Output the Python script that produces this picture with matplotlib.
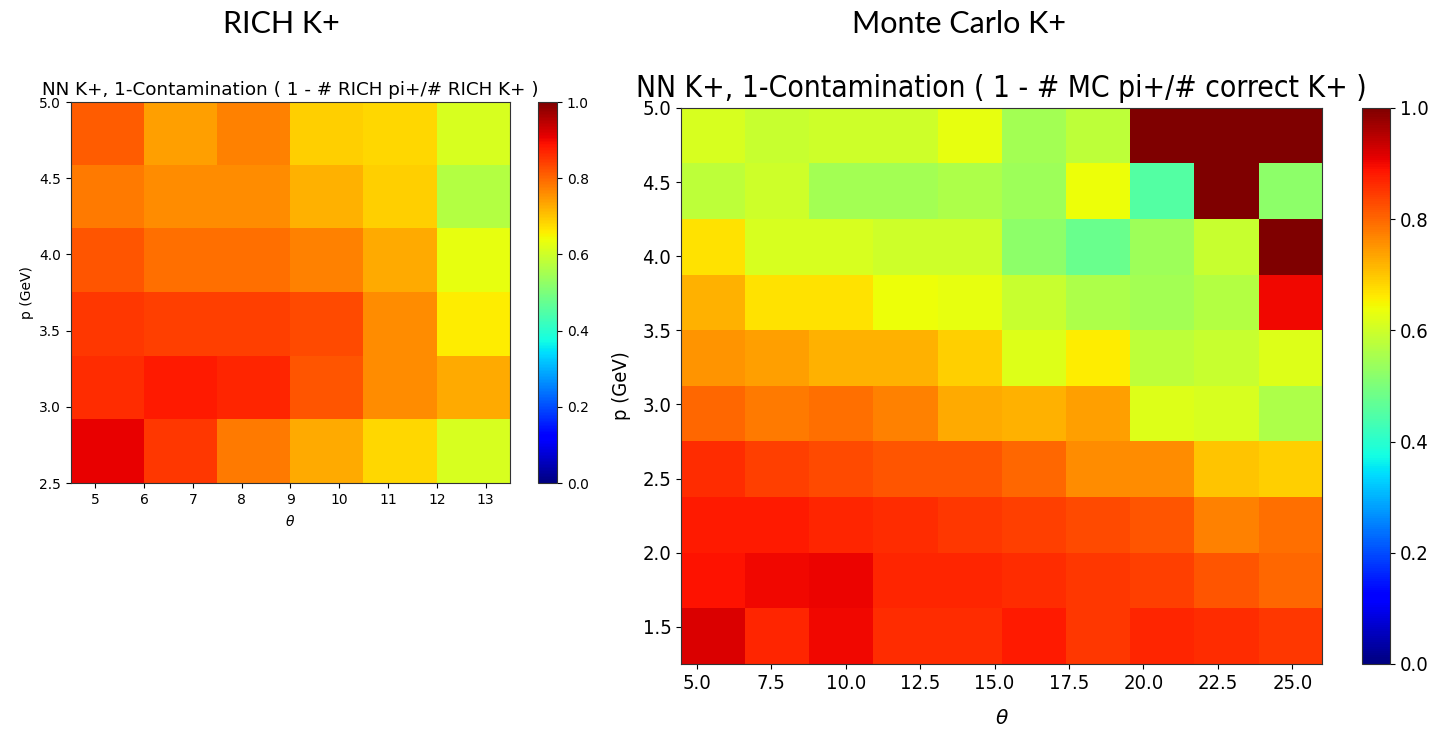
import numpy as np
import matplotlib
matplotlib.use("Agg")
import matplotlib.pyplot as plt

# RICH K+ purity map: rows run from high p (top) to low p (bottom)
rich_theta_range = (4.5, 13.5)
rich_p_range = (2.5, 5.0)
rich_purity = [
    [0.81, 0.74, 0.77, 0.69, 0.68, 0.61],
    [0.78, 0.76, 0.76, 0.72, 0.69, 0.57],
    [0.82, 0.79, 0.79, 0.77, 0.73, 0.63],
    [0.85, 0.84, 0.84, 0.83, 0.76, 0.66],
    [0.86, 0.88, 0.87, 0.82, 0.76, 0.73],
    [0.91, 0.85, 0.78, 0.73, 0.68, 0.61],
]
rich_xticks = [5, 6, 7, 8, 9, 10, 11, 12, 13]
rich_yticks = [2.5, 3.0, 3.5, 4.0, 4.5, 5.0]

# Monte Carlo K+ purity map: rows run from high p (top) to low p (bottom)
mc_theta_range = (4.47, 26.0)
mc_p_range = (1.25, 5.0)
mc_purity = [
    [0.61, 0.59, 0.60, 0.60, 0.63, 0.55, 0.58, 1.00, 1.00, 1.00],
    [0.58, 0.60, 0.55, 0.55, 0.56, 0.54, 0.64, 0.45, 1.00, 0.52],
    [0.67, 0.61, 0.61, 0.60, 0.60, 0.52, 0.48, 0.54, 0.59, 1.00],
    [0.72, 0.67, 0.67, 0.64, 0.63, 0.59, 0.56, 0.55, 0.57, 0.90],
    [0.75, 0.74, 0.72, 0.72, 0.69, 0.62, 0.66, 0.58, 0.59, 0.62],
    [0.80, 0.78, 0.79, 0.77, 0.73, 0.72, 0.74, 0.62, 0.61, 0.56],
    [0.86, 0.84, 0.83, 0.82, 0.82, 0.80, 0.76, 0.76, 0.70, 0.69],
    [0.88, 0.88, 0.87, 0.86, 0.85, 0.84, 0.83, 0.82, 0.77, 0.79],
    [0.89, 0.90, 0.905, 0.87, 0.87, 0.86, 0.85, 0.84, 0.82, 0.80],
    [0.92, 0.87, 0.90, 0.86, 0.86, 0.88, 0.85, 0.87, 0.86, 0.85],
]
mc_xticks = [5.0, 7.5, 10.0, 12.5, 15.0, 17.5, 20.0, 22.5, 25.0]
mc_yticks = [1.5, 2.0, 2.5, 3.0, 3.5, 4.0, 4.5, 5.0]

cbar_ticks = [0.0, 0.2, 0.4, 0.6, 0.8, 1.0]

fig = plt.figure(figsize=(14.45, 7.37), dpi=100)
fig.patch.set_facecolor("white")

# Panel headings
fig.text(0.195, 0.968, "RICH K+", ha="center", va="center",
         fontsize=22, family="Lato", color="black")
fig.text(0.664, 0.968, "Monte Carlo K+", ha="center", va="center",
         fontsize=22, family="Lato", color="black")


def draw_map(ax, cax, data, xr, yr, xticks, yticks, title, fs_title, fs_tick,
             fs_label, stretch, xlabelpad, ylabelpad, title_pad):
    im = ax.imshow(np.array(data), cmap="jet", vmin=0, vmax=1,
                   extent=[xr[0], xr[1], yr[0], yr[1]], origin="upper",
                   aspect="auto", interpolation="nearest")
    ax.set_xticks(xticks)
    ax.set_yticks(yticks)
    ax.set_xticklabels([f"{t:g}" if isinstance(t, int) else f"{t:.1f}" for t in xticks],
                       fontsize=fs_tick, fontstretch=stretch)
    ax.set_yticklabels([f"{t:.1f}" for t in yticks], fontsize=fs_tick,
                       fontstretch=stretch)
    ax.set_xlim(xr)
    ax.set_ylim(yr)
    ax.set_title(title, fontsize=fs_title, fontstretch=stretch, pad=title_pad)
    ax.set_xlabel(r"$\theta$", fontsize=fs_label, labelpad=xlabelpad)
    ax.set_ylabel("p (GeV)", fontsize=fs_label, fontstretch=stretch,
                  labelpad=ylabelpad)
    for s in ax.spines.values():
        s.set_color("#333333")
    cb = fig.colorbar(im, cax=cax, ticks=cbar_ticks)
    cb.ax.set_yticklabels([f"{t:.1f}" for t in cbar_ticks], fontsize=fs_tick,
                          fontstretch=stretch)
    cb.outline.set_edgecolor("#333333")
    return im


ax1 = fig.add_axes([0.0491, 0.3446, 0.3038, 0.517])
cax1 = fig.add_axes([0.3723, 0.3446, 0.0131, 0.517])
draw_map(ax1, cax1, rich_purity, rich_theta_range, rich_p_range,
         rich_xticks, rich_yticks,
         "NN K+, 1-Contamination ( 1 - # RICH pi+/# RICH K+ )",
         13.2, 10, 10, "normal", 5, 4, 5)

ax2 = fig.add_axes([0.4713, 0.0991, 0.4436, 0.7544])
cax2 = fig.add_axes([0.9426, 0.0991, 0.0194, 0.7544])
draw_map(ax2, cax2, mc_purity, mc_theta_range, mc_p_range,
         mc_xticks, mc_yticks,
         "NN K+, 1-Contamination ( 1 - # MC pi+/# correct K+ )",
         21.5, 14.5, 14.5, "condensed", 12, 8, 8)

fig.savefig("out.png", dpi=100)
